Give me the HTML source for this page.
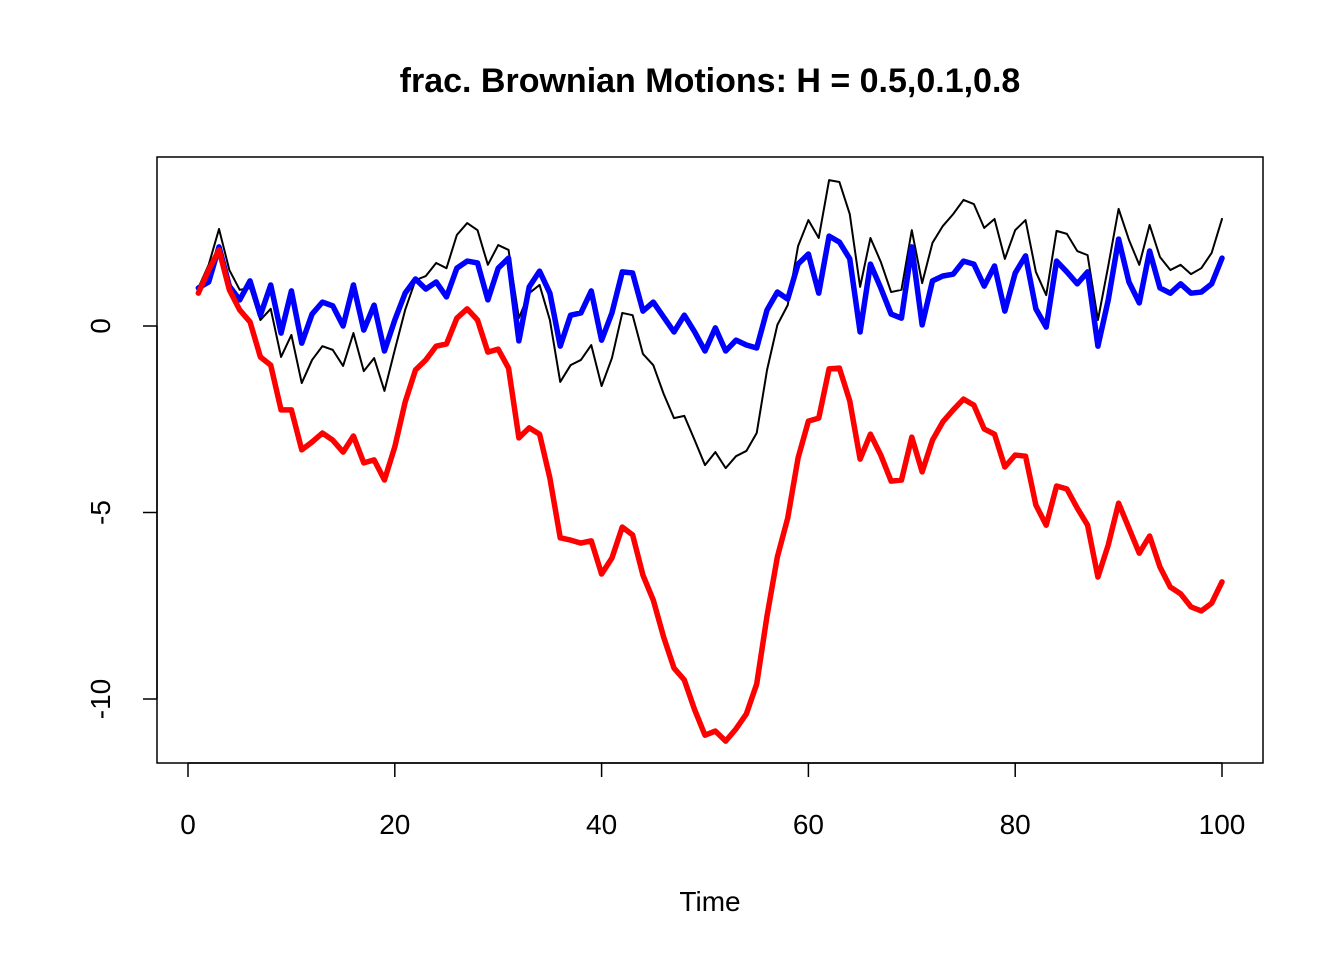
<!DOCTYPE html>
<html><head><meta charset="utf-8"><style>
body{margin:0;background:#fff;}
svg{display:block;font-family:"Liberation Sans",Arial,sans-serif;}
</style></head><body>
<svg id="chart" width="1344" height="960">
<text x="710" y="92" text-anchor="middle" font-size="34" font-weight="bold">frac. Brownian Motions: H = 0.5,0.1,0.8</text>
<rect x="157" y="157" width="1106" height="606" fill="none" stroke="#000" stroke-width="1.5"/>
<text x="710" y="911" text-anchor="middle" font-size="28">Time</text>
<g id="xaxis"></g>
<g id="yaxis"></g>
<g id="series"></g>
</svg>
<script>
const xTicks=[0,20,40,60,80,100];
const yTicks=[0,-5,-10];
const yTickLabels=["0","-5","-10"];
const seriesBlack=[1.02,1.64,2.60,1.50,0.97,1.02,0.16,0.46,-0.83,-0.24,-1.53,-0.91,-0.54,-0.64,-1.07,-0.19,-1.21,-0.86,-1.74,-0.64,0.43,1.23,1.34,1.69,1.55,2.44,2.76,2.57,1.64,2.17,2.04,0.21,0.88,1.10,0.16,-1.50,-1.05,-0.91,-0.51,-1.61,-0.86,0.35,0.29,-0.75,-1.05,-1.82,-2.47,-2.41,-3.06,-3.73,-3.38,-3.81,-3.49,-3.35,-2.87,-1.18,0.03,0.56,2.14,2.84,2.36,3.91,3.86,3.00,1.05,2.36,1.72,0.91,0.97,2.57,1.15,2.23,2.68,3.00,3.38,3.27,2.63,2.87,1.80,2.57,2.84,1.45,0.83,2.55,2.47,2.01,1.90,0.16,1.61,3.14,2.31,1.64,2.71,1.85,1.50,1.64,1.39,1.55,1.96,2.87];
const seriesRed=[0.88,1.50,2.04,0.97,0.43,0.11,-0.83,-1.05,-2.25,-2.25,-3.32,-3.11,-2.87,-3.06,-3.38,-2.95,-3.67,-3.59,-4.13,-3.24,-2.04,-1.18,-0.91,-0.54,-0.48,0.21,0.46,0.16,-0.70,-0.62,-1.13,-3.00,-2.73,-2.90,-4.08,-5.68,-5.74,-5.82,-5.76,-6.65,-6.22,-5.39,-5.60,-6.68,-7.35,-8.34,-9.17,-9.49,-10.29,-10.97,-10.86,-11.13,-10.80,-10.40,-9.60,-7.77,-6.19,-5.15,-3.54,-2.55,-2.47,-1.15,-1.13,-2.01,-3.57,-2.90,-3.46,-4.16,-4.13,-2.98,-3.91,-3.06,-2.57,-2.25,-1.96,-2.12,-2.76,-2.90,-3.78,-3.46,-3.49,-4.80,-5.34,-4.29,-4.37,-4.88,-5.34,-6.73,-5.87,-4.75,-5.42,-6.09,-5.63,-6.46,-7.00,-7.18,-7.53,-7.64,-7.43,-6.86];
const seriesBlue=[1.02,1.18,2.12,1.07,0.70,1.21,0.29,1.10,-0.19,0.94,-0.46,0.32,0.64,0.54,0,1.10,-0.11,0.56,-0.67,0.16,0.88,1.26,0.99,1.18,0.78,1.55,1.74,1.69,0.70,1.55,1.82,-0.40,1.05,1.47,0.88,-0.54,0.29,0.35,0.94,-0.38,0.35,1.45,1.42,0.40,0.64,0.24,-0.16,0.29,-0.16,-0.67,-0.05,-0.67,-0.38,-0.51,-0.59,0.43,0.91,0.72,1.66,1.93,0.88,2.41,2.25,1.80,-0.16,1.66,1.02,0.32,0.21,2.12,0.03,1.21,1.34,1.39,1.74,1.66,1.07,1.61,0.40,1.42,1.88,0.46,-0.03,1.74,1.45,1.13,1.45,-0.54,0.70,2.33,1.18,0.62,2.01,1.02,0.88,1.13,0.88,0.91,1.13,1.82];

const NS="http://www.w3.org/2000/svg";
const X=t=>188+10.34*t;
const Y=v=>326-37.3*v;
function mk(tag,attrs,parent){const e=document.createElementNS(NS,tag);for(const k in attrs)e.setAttribute(k,attrs[k]);parent.appendChild(e);return e;}
const xa=document.getElementById('xaxis'),ya=document.getElementById('yaxis'),sg=document.getElementById('series');
let l=mk('line',{x1:X(0),x2:X(100),y1:763,y2:763,stroke:'#000','stroke-width':1.5},xa);


xTicks.forEach(t=>{
 const tk=mk('line',{x1:X(t),x2:X(t),y1:763,y2:777,stroke:'#000','stroke-width':1.5},xa);
 
 
 const tx=mk('text',{x:X(t),y:834,'text-anchor':'middle','font-size':28},xa);
 tx.textContent=t;
 
 
});
l=mk('line',{x1:157,x2:157,y1:Y(0),y2:Y(-10),stroke:'#000','stroke-width':1.5},ya);


yTicks.forEach((v,i)=>{
 const tk=mk('line',{x1:143,x2:157,y1:Y(v),y2:Y(v),stroke:'#000','stroke-width':1.5},ya);
 
 
 const tx=mk('text',{x:0,y:0,'text-anchor':'middle','font-size':28,transform:`translate(110,${Y(v)}) rotate(-90)`},ya);
 tx.textContent=yTickLabels[i];
 
 
});
function draw(data,color,w,name){
 const p=mk('polyline',{points:data.map((v,i)=>X(i+1)+','+Y(v)).join(' '),fill:'none',stroke:color,'stroke-width':w,'stroke-linejoin':'round','stroke-linecap':'round'},sg);
 
 
}
draw(seriesBlack,'#000',2,'series-h05');
draw(seriesBlue,'#0000ff',5.5,'series-h01');
draw(seriesRed,'#ff0000',5.5,'series-h08');
</script>
</body></html>
